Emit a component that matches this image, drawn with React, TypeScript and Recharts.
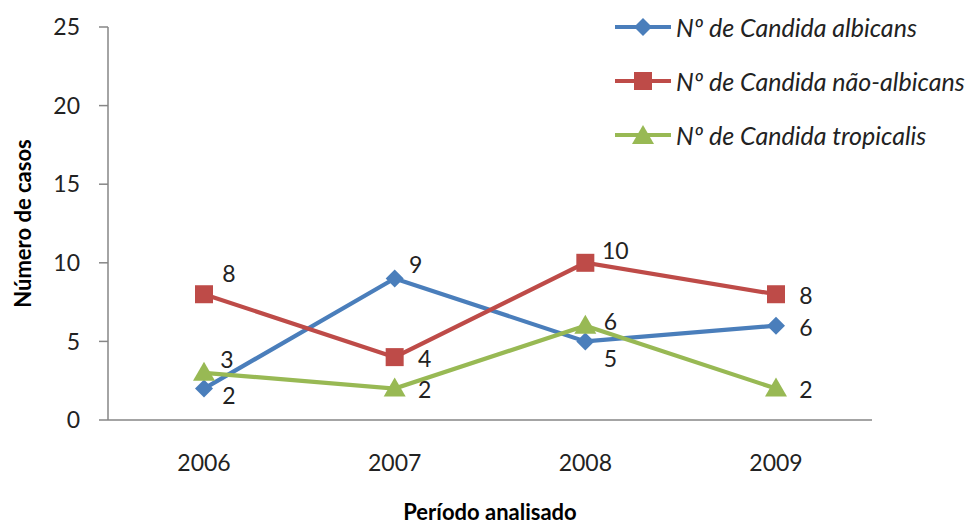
import React from 'react';
import { LineChart, Line, XAxis, YAxis } from 'recharts';

const years = ['2006', '2007', '2008', '2009'];
const albicans = [2, 9, 5, 6];
const naoAlbicans = [8, 4, 10, 8];
const tropicalis = [3, 2, 6, 2];
const yTicks = [0, 5, 10, 15, 20, 25];

const seriesNames = {
  a: 'Nº de Candida albicans',
  n: 'Nº de Candida não-albicans',
  t: 'Nº de Candida tropicalis',
};

const data = years.map((y, i) => ({
  year: y,
  a: albicans[i],
  n: naoAlbicans[i],
  t: tropicalis[i],
}));

const COLORS = { a: '#4A7EBB', n: '#BE4B48', t: '#98B954' };
const FONT = 'Lato, "Open Sans", sans-serif';
const LW = 4.2;

// label offsets (style only)
const labelOffsets: Record<string, [number, number][]> = {
  a: [[25, 6], [21, -15], [25, 17], [30, 1]],
  n: [[25, -21], [30, 1], [30, -13], [30, 1]],
  t: [[23, -14], [30, 0], [25, -5], [30, 0]],
};

const Diamond = (props: any) => {
  const { cx, cy, fill } = props;
  const r = 9;
  return <path d={`M${cx},${cy - r}L${cx + r},${cy}L${cx},${cy + r}L${cx - r},${cy}Z`} fill={fill} />;
};
const Square = (props: any) => {
  const { cx, cy, fill } = props;
  const r = 9;
  return <rect x={cx - r} y={cy - r} width={2 * r} height={2 * r} fill={fill} />;
};
const Triangle = (props: any) => {
  const { cx, cy, fill } = props;
  return <path d={`M${cx},${cy - 11}L${cx + 11},${cy + 8}L${cx - 11},${cy + 8}Z`} fill={fill} />;
};

const makeLabel = (key: string) => (props: any) => {
  const { x, y, value, index } = props;
  const [dx, dy] = labelOffsets[key][index];
  return (
    <text x={x + dx} y={y + dy} textAnchor="middle" dominantBaseline="central" fontFamily={FONT} fontSize={23} fill="#222">
      {value}
    </text>
  );
};

const LegendMarker = ({ k }: { k: string }) => {
  const c = (COLORS as any)[k];
  return (
    <svg width={58} height={24} style={{ display: 'block' }}>
      <line x1={0} y1={12} x2={56} y2={12} stroke={c} strokeWidth={LW} />
      {k === 'a' && <Diamond cx={28} cy={12} fill={c} />}
      {k === 'n' && <Square cx={28} cy={12} fill={c} />}
      {k === 't' && <Triangle cx={28} cy={13} fill={c} />}
    </svg>
  );
};

const LegendBox = () => (
  <div style={{ position: 'absolute', left: 607, top: -8, fontFamily: FONT, fontStyle: 'italic', fontSize: 25, color: '#222' }}>
    {(['a', 'n', 't'] as const).map((k) => (
      <div key={k} style={{ display: 'flex', alignItems: 'center', height: 54 }}>
        <LegendMarker k={k} />
        <span style={{ marginLeft: 3, whiteSpace: 'nowrap' }}>{seriesNames[k]}</span>
      </div>
    ))}
  </div>
);

export default function App() {
  return (
    <div style={{ position: 'relative', width: 970, height: 516 }}>
      <LineChart width={970} height={516} data={data} margin={{ top: 19, right: 106, bottom: 64, left: 0 }}>
        <XAxis
          dataKey="year"
          padding={{ left: 96, right: 96 }}
          axisLine={{ stroke: '#868686', strokeWidth: 1.5 }}
          tickLine={false}
          tickSize={0}
          tickMargin={35}
          height={40}
          tick={{ fontFamily: FONT, fontSize: 23, fill: '#222' }}
          label={(p: any) => {
            const vb = p.viewBox;
            return (
              <text x={vb.x + vb.width / 2} y={512} textAnchor="middle" fontFamily={FONT} fontWeight="bold" fontSize={22} fill="#000">
                Período analisado
              </text>
            );
          }}
        />
        <YAxis
          domain={[0, 25]}
          ticks={yTicks}
          interval={0}
          width={100}
          axisLine={{ stroke: '#868686', strokeWidth: 1.5 }}
          tickLine={{ stroke: '#868686', strokeWidth: 1.5 }}
          tickSize={9}
          tickMargin={19}
          tick={{ fontFamily: FONT, fontSize: 23, fill: '#222' }}
          label={(p: any) => {
            const vb = p.viewBox;
            const cy = vb.y + vb.height / 2;
            return (
              <text x={14} y={cy} transform={`rotate(-90 14 ${cy})`} textAnchor="middle" dominantBaseline="central" fontFamily={FONT} fontWeight="bold" fontSize={22} fill="#000">
                Número de casos
              </text>
            );
          }}
        />
        <Line type="linear" dataKey="a" name={seriesNames.a} stroke={COLORS.a} strokeWidth={LW} dot={<Diamond fill={COLORS.a} />} activeDot={false} label={makeLabel('a')} isAnimationActive={false} />
        <Line type="linear" dataKey="n" name={seriesNames.n} stroke={COLORS.n} strokeWidth={LW} dot={<Square fill={COLORS.n} />} activeDot={false} label={makeLabel('n')} isAnimationActive={false} />
        <Line type="linear" dataKey="t" name={seriesNames.t} stroke={COLORS.t} strokeWidth={LW} dot={<Triangle fill={COLORS.t} />} activeDot={false} label={makeLabel('t')} isAnimationActive={false} />
      </LineChart>
      <LegendBox />
    </div>
  );
}
